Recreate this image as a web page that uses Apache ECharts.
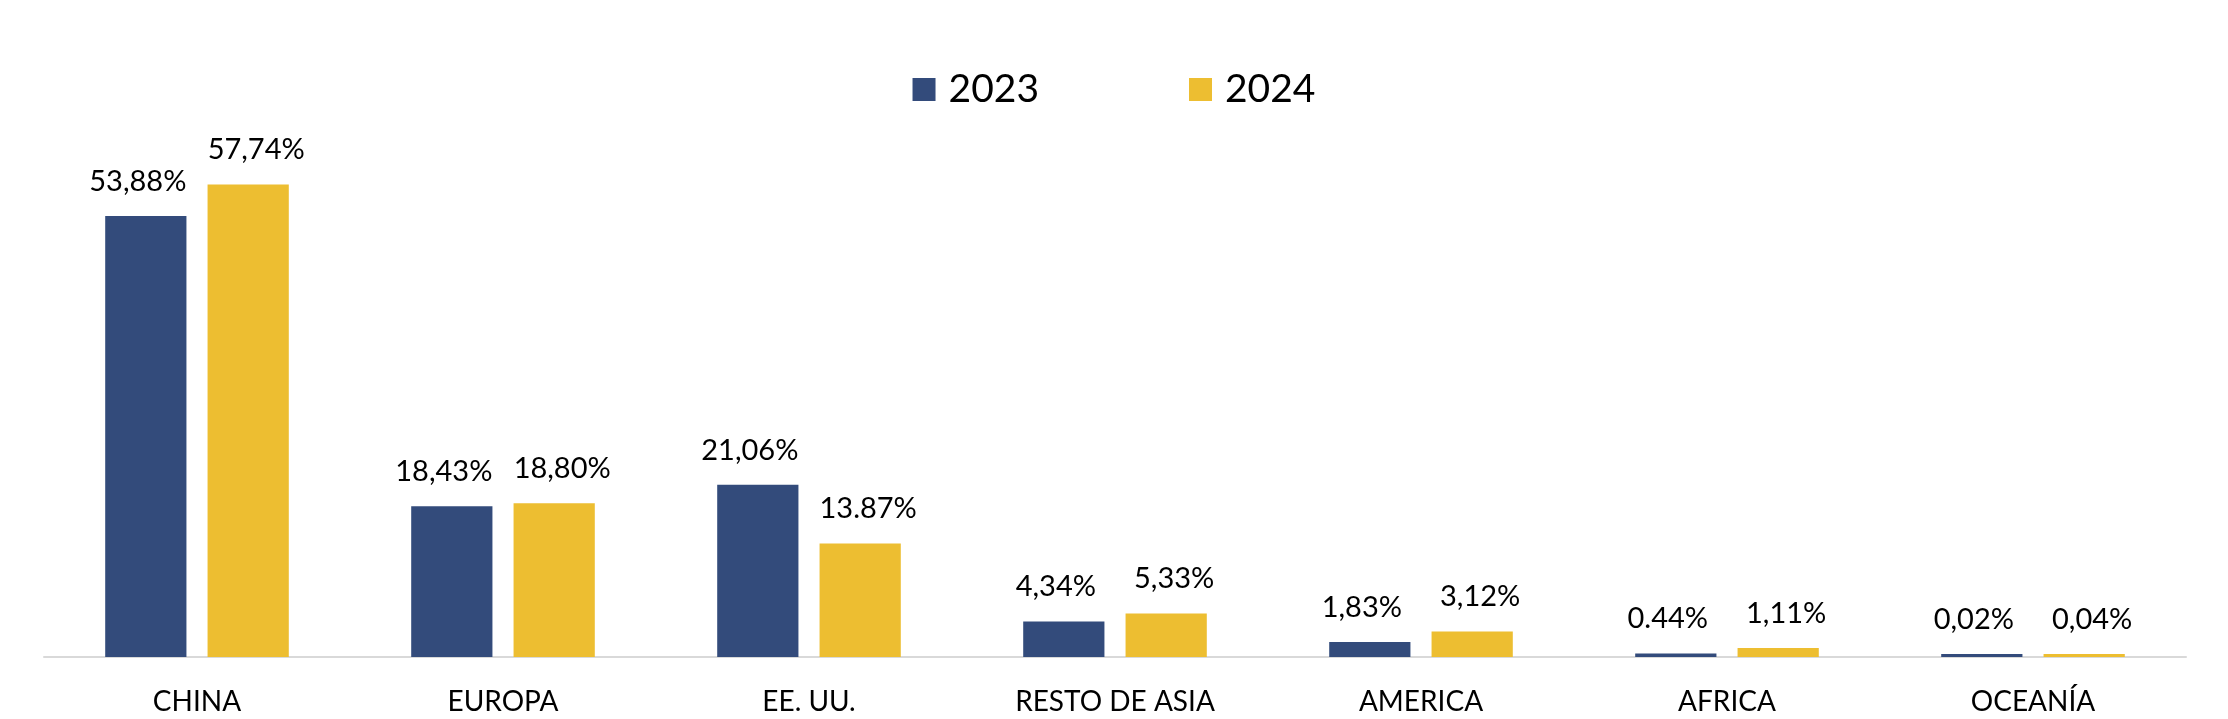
<!DOCTYPE html>
<html>
<head>
<meta charset="utf-8">
<script src="https://cdn.jsdelivr.net/npm/echarts@6/dist/echarts.min.js"></script>
<style>
html,body{margin:0;padding:0;background:#fff;}
#chart{width:2228px;height:719px;}
</style>
</head>
<body>
<div id="chart"></div>
<script>
const categories = ['CHINA', 'EUROPA', 'EE. UU.', 'RESTO DE ASIA', 'AMERICA', 'AFRICA', 'OCEANÍA'];
const seriesNames = ['2023', '2024'];
const values2023 = [53.88, 18.43, 21.06, 4.34, 1.83, 0.44, 0.02];
const values2024 = [57.74, 18.80, 13.87, 5.33, 3.12, 1.11, 0.04];
const labels2023 = ['53,88%', '18,43%', '21,06%', '4,34%', '1,83%', '0.44%', '0,02%'];
const labels2024 = ['57,74%', '18,80%', '13.87%', '5,33%', '3,12%', '1,11%', '0,04%'];

const FONT = "Lato, 'Noto Sans', sans-serif";
const chart = echarts.init(document.getElementById('chart'));

function makeSeries(name, values, labels, color, dx) {
  return {
    name: name,
    type: 'bar',
    data: values,
    barGap: '26%',
    barCategoryGap: '40%',
    barMinHeight: 3,
    itemStyle: { color: color },
    label: {
      show: true,
      position: 'top',
      distance: 20,
      offset: [dx, 0],
      fontFamily: FONT,
      fontSize: 29,
      color: '#000',
      formatter: p => labels[p.dataIndex]
    }
  };
}

chart.setOption({
  animation: false,
  legend: {
    top: 65,
    left: 'center',
    itemWidth: 23,
    itemHeight: 23,
    itemGap: 150,
    icon: 'rect',
    textStyle: { fontFamily: FONT, fontSize: 39, color: '#000', padding: [0, 0, 0, 8] },
    data: seriesNames
  },
  grid: { left: 44, right: 42, top: 166, bottom: 62, containLabel: false },
  xAxis: {
    type: 'category',
    data: categories,
    axisLine: { lineStyle: { color: '#d9d9d9', width: 2 } },
    axisTick: { show: false },
    axisLabel: { fontFamily: FONT, fontSize: 28, color: '#000', margin: 31 }
  },
  yAxis: {
    type: 'value',
    min: 0,
    max: 60,
    show: false,
    splitLine: { show: false }
  },
  series: [
    makeSeries(seriesNames[0], values2023, labels2023, '#334b7b', -8),
    makeSeries(seriesNames[1], values2024, labels2024, '#edbe31', 8)
  ]
});
</script>
</body>
</html>
